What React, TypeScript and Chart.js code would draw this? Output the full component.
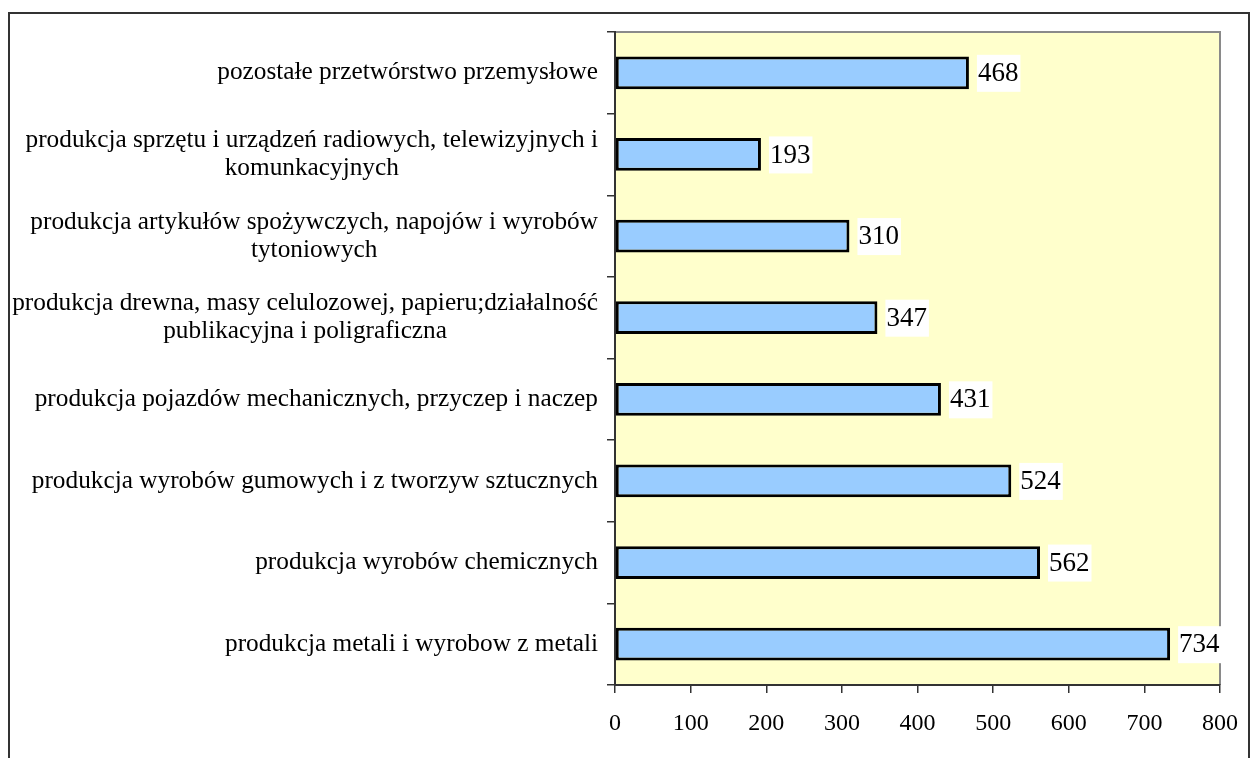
import React, { useEffect, useRef } from "react";
import { Chart, registerables } from "chart.js";

Chart.register(...registerables);

const categories: string[][] = [
  ["pozostałe przetwórstwo przemysłowe"],
  ["produkcja sprzętu i urządzeń radiowych, telewizyjnych i", "komunkacyjnych"],
  ["produkcja artykułów spożywczych, napojów i wyrobów", "tytoniowych"],
  ["produkcja drewna, masy celulozowej, papieru;działalność", "publikacyjna i poligraficzna"],
  ["produkcja pojazdów mechanicznych, przyczep i naczep"],
  ["produkcja wyrobów gumowych i z tworzyw sztucznych"],
  ["produkcja wyrobów chemicznych"],
  ["produkcja metali i wyrobow z metali"],
];
const values: number[] = [468, 193, 310, 347, 431, 524, 562, 734];
const xTicks: number[] = [0, 100, 200, 300, 400, 500, 600, 700, 800];

const FONT = '"Liberation Serif", "Times New Roman", serif';

const decorPlugin = {
  id: "decor",
  beforeDraw(chart: any) {
    const { ctx, chartArea: a } = chart;
    ctx.save();
    ctx.fillStyle = "#ffffff";
    ctx.fillRect(0, 0, chart.width, chart.height);
    ctx.fillStyle = "#FFFFCC";
    ctx.fillRect(a.left, a.top, a.right - a.left, a.bottom - a.top);
    ctx.strokeStyle = "#8a8a8a";
    ctx.lineWidth = 2;
    ctx.beginPath();
    ctx.moveTo(a.left, a.top);
    ctx.lineTo(a.right, a.top);
    ctx.lineTo(a.right, a.bottom);
    ctx.stroke();
    // outer frame
    ctx.strokeStyle = "#333333";
    ctx.lineWidth = 2;
    ctx.strokeRect(9, 13, 1240, 900);
    ctx.restore();
  },
  afterDraw(chart: any) {
    const { ctx } = chart;
    const y = chart.scales.y;
    const x = chart.scales.x;
    ctx.save();
    // category labels, centered multi-line block right-aligned to axis
    ctx.font = `25.3px ${FONT}`;
    ctx.fillStyle = "#000";
    ctx.textBaseline = "middle";
    ctx.textAlign = "center";
    const rightEdge = 598;
    const lh = 28;
    categories.forEach((lines, i) => {
      const cy = y.getPixelForValue(i);
      const maxW = Math.max(...lines.map((l) => ctx.measureText(l).width));
      const cx = rightEdge - maxW / 2;
      const start = cy - ((lines.length - 1) * lh) / 2;
      lines.forEach((l, j) => ctx.fillText(l, cx, start + j * lh));
    });
    // value labels
    ctx.font = `27px ${FONT}`;
    ctx.textAlign = "left";
    values.forEach((v, i) => {
      const px = x.getPixelForValue(v);
      const cy = y.getPixelForValue(i);
      const t = String(v);
      const w = ctx.measureText(t).width;
      const bx = px + 8;
      ctx.fillStyle = "#ffffff";
      ctx.fillRect(bx, cy - 18, w + 3, 37);
      ctx.fillStyle = "#000";
      ctx.fillText(t, bx + 1, cy + 1);
    });
    ctx.restore();
  },
};

export default function App() {
  const ref = useRef<HTMLCanvasElement>(null);
  useEffect(() => {
    document.body.style.margin = "0";
    const chart = new Chart(ref.current!, {
      type: "bar",
      data: {
        labels: categories.map((c) => c.join(" ")),
        datasets: [
          {
            data: values,
            backgroundColor: "#99CCFF",
            borderColor: "#000000",
            borderWidth: 3,
            borderSkipped: false,
            categoryPercentage: 1,
            barPercentage: 0.4,
          },
        ],
      },
      options: {
        indexAxis: "y",
        responsive: false,
        animation: false,
        maintainAspectRatio: false,
        layout: { padding: { top: 32, right: 31, left: 0, bottom: 0 } },
        plugins: { legend: { display: false }, tooltip: { enabled: false } },
        scales: {
          x: {
            type: "linear",
            min: 0,
            max: 800,
            afterBuildTicks: (s: any) => {
              s.ticks = xTicks.map((v) => ({ value: v }));
            },
            afterFit: (s: any) => {
              s.height = 73;
              s.paddingLeft = 0;
              s.paddingRight = 0;
            },
            ticks: {
              font: { family: FONT, size: 24 },
              color: "#000",
              padding: 16,
              maxRotation: 0,
            },
            grid: { drawOnChartArea: false, tickLength: 8, color: "#333", lineWidth: 1.5 },
            border: { color: "#333", width: 2 },
          },
          y: {
            type: "category",
            afterFit: (s: any) => {
              s.width = 615;
              s.paddingTop = 0;
              s.paddingBottom = 0;
            },
            ticks: { callback: () => "", font: { size: 1 } },
            grid: { drawOnChartArea: false, tickLength: 8, color: "#333", lineWidth: 1.5, offset: true },
            border: { color: "#333", width: 2 },
          },
        },
      },
      plugins: [decorPlugin],
    } as any);
    return () => chart.destroy();
  }, []);
  return <canvas ref={ref} width={1251} height={758} style={{ display: "block" }} />;
}
